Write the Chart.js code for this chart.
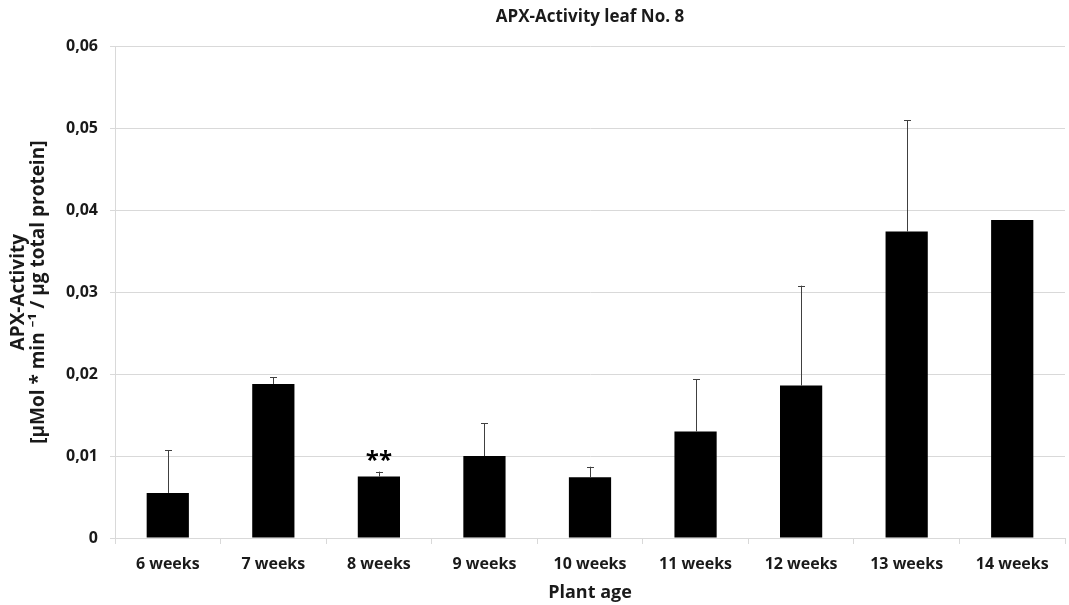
<!DOCTYPE html>
<html>
<head>
<meta charset="utf-8">
<script src="https://cdn.jsdelivr.net/npm/chart.js@4/dist/chart.umd.min.js"></script>
<style>
html,body{margin:0;padding:0;background:#fff;}
#wrap{width:1069px;height:605px;position:relative;}
</style>
</head>
<body>
<div id="wrap"><canvas id="c" width="1069" height="605"></canvas></div>
<script>
const categories = ['6 weeks','7 weeks','8 weeks','9 weeks','10 weeks','11 weeks','12 weeks','13 weeks','14 weeks'];
const activity = [0.0055, 0.0188, 0.0075, 0.0100, 0.0074, 0.0130, 0.0186, 0.0374, 0.0388];
const errorUp = [0.0052, 0.0008, 0.0006, 0.0040, 0.0013, 0.0064, 0.0122, 0.0136, 0];
const significance = ['', '', '**', '', '', '', '', '', ''];
const yTicks = [0, 0.01, 0.02, 0.03, 0.04, 0.05, 0.06];

const FONT = "'Open Sans', 'Noto Sans', sans-serif";

const errorBarPlugin = {
  id: 'errorBars',
  afterDatasetsDraw(chart) {
    const ctx = chart.ctx;
    const meta = chart.getDatasetMeta(0);
    const y = chart.scales.y;
    ctx.save();
    meta.data.forEach((bar, i) => {
      const top = y.getPixelForValue(activity[i]);
      const errTop = y.getPixelForValue(activity[i] + errorUp[i]);
      if (errorUp[i] > 0) {
        ctx.strokeStyle = '#404040';
        ctx.lineWidth = 1;
        ctx.beginPath();
        ctx.moveTo(Math.round(bar.x) + 0.5, top);
        ctx.lineTo(Math.round(bar.x) + 0.5, errTop);
        ctx.moveTo(Math.round(bar.x) - 3, Math.round(errTop) + 0.5);
        ctx.lineTo(Math.round(bar.x) + 4, Math.round(errTop) + 0.5);
        ctx.stroke();
      }
      if (significance[i]) {
        ctx.fillStyle = '#000';
        ctx.font = "bold 24px " + FONT;
        ctx.textAlign = 'center';
        ctx.textBaseline = 'alphabetic';
        ctx.fillText(significance[i], bar.x, errTop - 4);
      }
    });
    ctx.restore();
  }
};

new Chart(document.getElementById('c'), {
  type: 'bar',
  data: {
    labels: categories,
    datasets: [{
      data: activity,
      backgroundColor: '#000000',
      borderColor: '#000000',
      borderWidth: 0,
      barPercentage: 0.4,
      categoryPercentage: 1.0
    }]
  },
  options: {
    responsive: false,
    animation: false,
    devicePixelRatio: 1,
    layout: { padding: { left: 0, right: 4, top: 0, bottom: 0 } },
    plugins: {
      legend: { display: false },
      tooltip: { enabled: false },
      title: {
        display: true,
        text: 'APX-Activity leaf No. 8',
        fullSize: false,
        color: '#1a1a1a',
        font: { family: FONT, size: 17, weight: 'bold' },
        padding: { top: 7, bottom: 19 }
      }
    },
    scales: {
      x: {
        grid: { drawOnChartArea: false, drawTicks: true, tickLength: 6, offset: true, color: '#d9d9d9' },
        border: { color: '#d9d9d9', width: 1 },
        ticks: { color: '#1a1a1a', font: { family: FONT, size: 16, weight: 'bold' }, padding: 11, maxRotation: 0, autoSkip: false },
        title: { display: true, text: 'Plant age', color: '#1a1a1a', font: { family: FONT, size: 18, weight: 'bold' }, padding: { top: 0, bottom: 1 } },
        afterFit(scale) { scale.height = 67; }
      },
      y: {
        min: 0,
        max: 0.06,
        afterBuildTicks(scale) { scale.ticks = yTicks.map(v => ({ value: v })); },
        grid: { color: '#d9d9d9', tickLength: 5, drawTicks: true },
        border: { color: '#d9d9d9', width: 1 },
        ticks: {
          color: '#1a1a1a',
          font: { family: FONT, size: 16, weight: 'bold' },
          padding: 12,
          callback(v) { return v === 0 ? '0' : Number(v).toFixed(2).replace('.', ','); }
        },
        title: {
          display: true,
          text: ['APX-Activity', '[µMol * min \u207B\u00B9 / µg total protein]'],
          color: '#1a1a1a',
          font: { family: FONT, size: 19, weight: 'bold', lineHeight: 1.05 },
          padding: { top: 9, bottom: 0 }
        },
        afterFit(scale) { scale.width = 115; }
      }
    }
  },
  plugins: [errorBarPlugin]
});
</script>
</body>
</html>
